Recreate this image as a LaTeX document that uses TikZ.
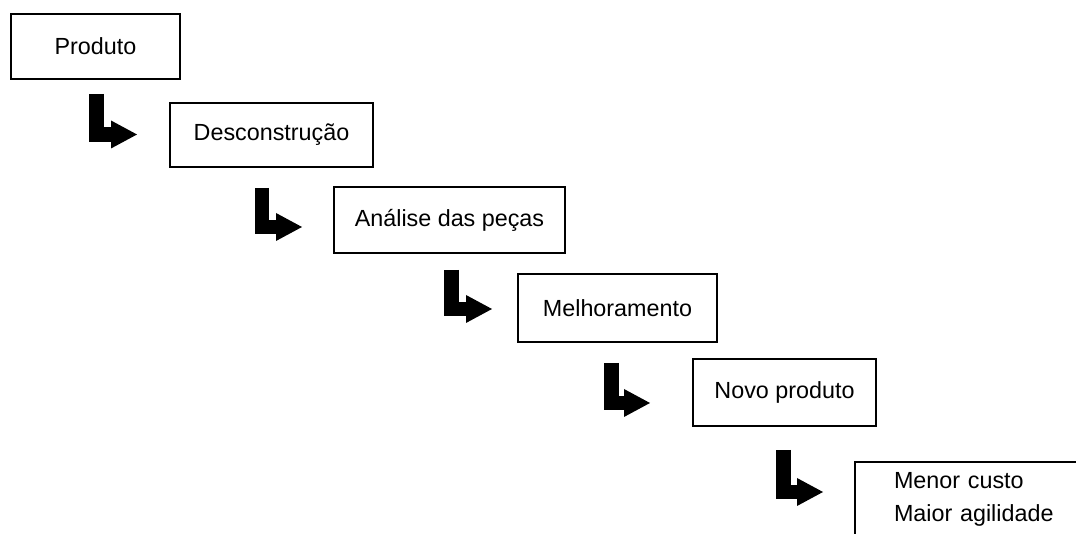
\documentclass[tikz,border=0pt]{standalone}
\usepackage{fontspec}
\setmainfont{Liberation Sans}
\usepackage{tikz}
\usetikzlibrary{arrows.meta}

\begin{document}
\begin{tikzpicture}[line cap=butt,line join=miter,x=0.75pt,y=-0.75pt,
  caixa/.style={draw=black,line width=1.5pt,fill=white,inner sep=0pt,font=\fontsize{17.5}{24.75}\selectfont},
  passo/.style={line width=11pt,-{Triangle[length=19.5pt,width=21pt,line width=0pt]}}]
\useasboundingbox (0,0) rectangle (1076,534);
\clip (0,0) rectangle (1076,534);

\node[caixa,minimum width=126.75pt,minimum height=48.75pt] (produto) at (95.5,46.5) {Produto};
\node[caixa,minimum width=152.25pt,minimum height=48pt] (descons) at (271.5,135) {Desconstrução};
\node[caixa,minimum width=173.25pt,minimum height=49.5pt] (analise) at (449.5,220) {Análise das peças};
\node[caixa,minimum width=149.25pt,minimum height=51pt] (melhora) at (617.5,308) {Melhoramento};
\node[caixa,minimum width=137.25pt,minimum height=50.25pt] (novo) at (784.5,392.5) {Novo produto};
\node[caixa,anchor=north west,minimum height=56.25pt,text width=147.75pt,inner xsep=29.25pt,align=left] (ganhos) at (854,461) {Menor custo\\Maior agilidade};

% setas em L entre as etapas
\foreach \n/\xa/\ya/\xb/\yb in {1/96.5/94/137/134.5,2/262/188/302/227,3/451.5/270/492/309,4/611.5/363/650/403,5/783.5/450/823/492}
{
\coordinate (topo\n) at (\xa,\ya);
\coordinate (ponta\n) at (\xb,\yb);
\draw[passo] (topo\n) |- (ponta\n);
}
\end{tikzpicture}
\end{document}
